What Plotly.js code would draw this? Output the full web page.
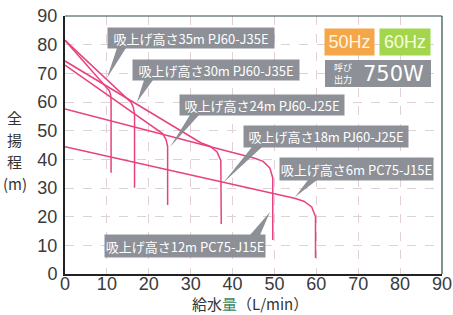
<!DOCTYPE html>
<html><head><meta charset="utf-8">
<script src="https://cdn.plot.ly/plotly-3.0.1.min.js"></script>
<style>html,body{margin:0;padding:0;background:#fff}#c{width:453px;height:315px}</style>
</head><body><div id="c"></div>
<script>
// data (flow L/min, total head m)
const flow35 = [0, 10.1, 10.6, 10.9, 11.0, 11.0];
const head35 = [81.5, 64.9, 63.9, 62.4, 60.5, 35.3];
const flow30 = [0, 14.9, 15.8, 16.3, 16.6, 16.6];
const head30 = [81.5, 60.9, 59.8, 58.2, 56.0, 30.1];
const flow24 = [0, 22.0, 23.3, 24.1, 24.5, 24.5];
const head24 = [72.9, 50.5, 49.0, 47.0, 44.5, 24.1];
const flow18 = [0, 32.5, 34.6, 36.3, 37.2, 37.3];
const head18 = [74.3, 45.7, 44.6, 42.6, 39.5, 17.4];
const flow12 = [0, 45.3, 47.3, 48.9, 49.6, 49.6];
const head12 = [57.6, 40.4, 39.3, 37.0, 33.5, 11.9];
const flow6 = [0, 54.8, 57.0, 58.9, 59.8, 59.8];
const head6 = [44.4, 26.4, 25.4, 23.4, 20.0, 5.6];

const labels = ['吸上げ高さ35m PJ60-J35E','吸上げ高さ30m PJ60-J35E','吸上げ高さ24m PJ60-J25E',
                '吸上げ高さ18m PJ60-J25E','吸上げ高さ6m PC75-J15E','吸上げ高さ12m PC75-J15E'];
const tickVals = [0,10,20,30,40,50,60,70,80,90];
const yTitleParts = ['全','揚','程','(m)'];

const curves = [[flow35,head35],[flow30,head30],[flow24,head24],[flow18,head18],[flow12,head12],[flow6,head6]];
const pink = '#e8417f';
const traces = curves.map(c => ({x:c[0], y:c[1], mode:'lines', type:'scatter',
  line:{color:pink, width:1.5}, hoverinfo:'skip'}));

// pixel -> paper helpers (plot area 65..442 x 16..274)
const L=65,R=442,T=16,B=274;
const px = v => (v-L)/(R-L);
const py = v => (B-v)/(B-T);

const gray = 'rgba(135,138,145,0.95)';
const boxes = [
  [108,28,274,48],[133,60,299,80],[180,95,344,115],[244,126,408,147],[280,158,433,180],[105,235,265,257]
];
const pointers = [
  [[117,48],[126,48],[107,78]],
  [[144,80],[153,80],[137,102]],
  [[190,115],[199,115],[170,147]],
  [[252,147],[262,147],[223,183]],
  [[308,180],[317,180],[295,197]],
  [[250,235],[260,235],[270,212]]
];
const annotations = [];
const shapes = [];
boxes.forEach((b,i)=>{
  annotations.push({xref:'paper',yref:'paper',x:px((b[0]+b[2])/2),y:py((b[1]+b[3])/2),
    xanchor:'center',yanchor:'middle',showarrow:false,text:labels[i],
    font:{family:'Noto Sans CJK JP, sans-serif',size:13,color:'#ffffff'},
    bgcolor:gray,width:b[2]-b[0],height:b[3]-b[1],borderpad:0});
});
pointers.forEach(p=>{
  shapes.push({type:'path',xref:'paper',yref:'paper',layer:'above',
    path:`M ${px(p[0][0])},${py(p[0][1])} L ${px(p[1][0])},${py(p[1][1])} L ${px(p[2][0])},${py(p[2][1])} Z`,
    fillcolor:gray,line:{width:0}});
});
annotations.push({xref:'paper',yref:'paper',x:px(349.5),y:py(42),xanchor:'center',yanchor:'middle',showarrow:false,
  text:'50Hz',font:{family:'Liberation Sans, sans-serif',size:18,color:'#fff6e0'},bgcolor:'#f5a649',width:49,height:26,borderpad:0});
annotations.push({xref:'paper',yref:'paper',x:px(405),y:py(42),xanchor:'center',yanchor:'middle',showarrow:false,
  text:'60Hz',font:{family:'Liberation Sans, sans-serif',size:18,color:'#f4ffe0'},bgcolor:'#a3d64c',width:50,height:26,borderpad:0});
shapes.push({type:'rect',xref:'paper',yref:'paper',x0:px(325),x1:px(431),y0:py(87),y1:py(60),fillcolor:gray,line:{width:0},layer:'above'});
annotations.push({xref:'paper',yref:'paper',x:px(343),y:py(73.5),xanchor:'center',yanchor:'middle',showarrow:false,
  text:'呼び<br>出力',font:{family:'Noto Sans CJK JP, sans-serif',size:9,color:'#ffffff'}});
annotations.push({xref:'paper',yref:'paper',x:px(393),y:py(74),xanchor:'center',yanchor:'middle',showarrow:false,
  text:'750W',font:{family:'DejaVu Sans, sans-serif',size:21,color:'#ffffff'}});
const yTitleY = [117,139,161,183];
yTitleParts.forEach((t,i)=>{
  annotations.push({xref:'paper',yref:'paper',x:px(15),y:py(yTitleY[i]),xanchor:'center',yanchor:'middle',showarrow:false,
    text:t,font:{family:'Noto Sans CJK JP, sans-serif',size:15,color:'#333333'},borderpad:0});
});
annotations.push({xref:'paper',yref:'paper',x:px(250),y:py(303),xanchor:'center',yanchor:'middle',showarrow:false,
  text:'給水<span style="color:#3f8a5c">量</span>（L/min）',font:{family:'Noto Sans CJK JP, sans-serif',size:15,color:'#333333'},borderpad:0});

shapes.push({type:'line',xref:'paper',yref:'paper',x0:0,x1:1,y0:1,y1:1,line:{color:'#2e4a4a',width:1.2}});
shapes.push({type:'line',xref:'paper',yref:'paper',x0:1,x1:1,y0:0,y1:1,line:{color:'#2e4a4a',width:1.2}});

const axFont = {family:'Liberation Sans, sans-serif',size:18,color:'#3a3a3a'};
const layout = {
  width:453,height:315,margin:{l:65,r:11,t:16,b:41},
  paper_bgcolor:'#ffffff',plot_bgcolor:'#ffffff',showlegend:false,
  xaxis:{range:[0,90],tickvals:tickVals,ticktext:tickVals.map(String),tickfont:axFont,
    showgrid:true,gridcolor:'#e3cfd8',griddash:'dash',gridwidth:1,zeroline:false,
    showline:true,linecolor:'#222',linewidth:2,ticks:'',ticklabelstandoff:-8,fixedrange:true},
  yaxis:{range:[0,90],tickvals:tickVals,ticktext:tickVals.map(String),tickfont:axFont,
    showgrid:true,gridcolor:'#ddd3d6',griddash:'dash',gridwidth:1,zeroline:false,
    showline:true,linecolor:'#222',linewidth:2,ticks:'',ticklabelstandoff:2,fixedrange:true},
  annotations:annotations,shapes:shapes
};
Plotly.newPlot('c',traces,layout,{displayModeBar:false,staticPlot:true});
</script></body></html>
